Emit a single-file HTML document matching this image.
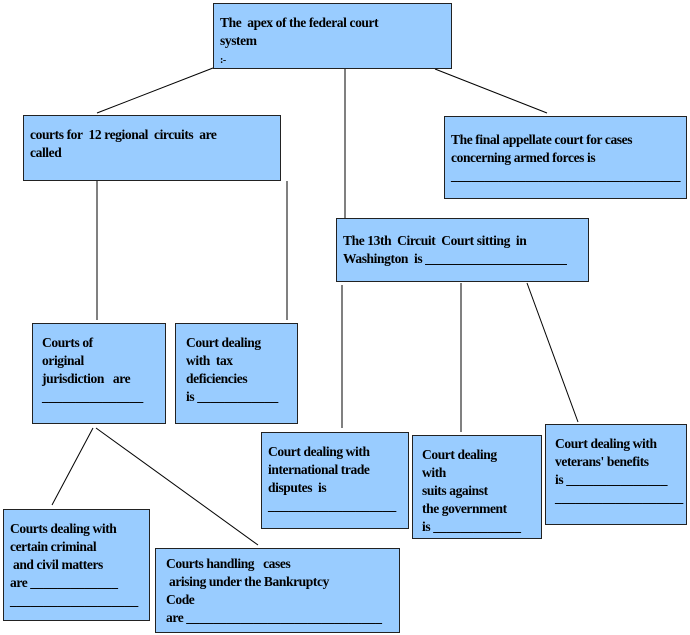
<!DOCTYPE html>
<html><head><meta charset="utf-8"><style>
body{margin:0;width:690px;height:635px;background:#fff;position:relative;overflow:hidden;font-family:"Liberation Serif","Times New Roman",serif;font-weight:bold;font-size:13.5px;letter-spacing:-0.4px;line-height:18px;color:#000}
.b{position:absolute;background:#99ccff;border:1px solid #222;box-sizing:border-box;padding:10px 6px}
.u{letter-spacing:0}
svg{position:absolute;left:0;top:0}
</style></head><body>
<svg width="690" height="635"><g stroke="#000" stroke-width="1" fill="none">
<line x1="213" y1="68" x2="97" y2="113"/>
<line x1="345" y1="68" x2="345" y2="218"/>
<line x1="435" y1="69" x2="547" y2="113"/>
<line x1="97" y1="181" x2="97" y2="320"/>
<line x1="287" y1="181" x2="287" y2="320"/>
<line x1="342" y1="285" x2="342" y2="428"/>
<line x1="461" y1="283" x2="461" y2="432"/>
<line x1="527" y1="283" x2="578" y2="422"/>
<line x1="93" y1="428" x2="52" y2="505"/>
<line x1="96" y1="428" x2="258" y2="545"/>
</g></svg>
<div class="b" style="left:213px;top:3px;width:239px;height:66px">The&nbsp; apex of the federal court<br>system<br><span style="font-size:10px;line-height:10px">:-</span></div>
<div class="b" style="left:23px;top:115px;width:258px;height:66px">courts for&nbsp; 12 regional&nbsp; circuits&nbsp; are<br>called</div>
<div class="b" style="left:444px;top:116px;width:243px;height:83px;padding-top:14px">The final appellate court for cases<br>concerning armed forces is<br><span class="u">__________________________________</span></div>
<div class="b" style="left:336px;top:218px;width:253px;height:64px;padding-top:13px">The 13th&nbsp; Circuit&nbsp; Court sitting&nbsp; in<br>Washington&nbsp; is <span class="u">_____________________</span></div>
<div class="b" style="left:32px;top:323px;width:134px;height:101px;padding-left:9px">Courts of<br>original<br>jurisdiction&nbsp;&nbsp; are<br><span class="u">_______________</span></div>
<div class="b" style="left:175px;top:323px;width:123px;height:101px;padding-left:10px">Court dealing<br>with&nbsp; tax<br>deficiencies<br>is <span class="u">____________</span></div>
<div class="b" style="left:261px;top:432px;width:148px;height:97px">Court dealing with<br>international trade<br>disputes&nbsp; is<br><span class="u">___________________</span></div>
<div class="b" style="left:412px;top:435px;width:130px;height:104px;padding-left:9px">Court dealing<br>with<br>suits against<br>the government<br>is <span class="u">_____________</span></div>
<div class="b" style="left:545px;top:424px;width:142px;height:101px;padding-left:9px">Court dealing with<br>veterans' benefits<br>is <span class="u">_______________</span><br><span class="u">___________________</span></div>
<div class="b" style="left:3px;top:509px;width:147px;height:112px">Courts dealing with<br>certain criminal<br>&nbsp;and civil matters<br>are <span class="u">_____________</span><br><span class="u">___________________</span></div>
<div class="b" style="left:155px;top:548px;width:245px;height:85px;padding-top:6px;padding-left:10px">Courts handling&nbsp;&nbsp; cases<br>&nbsp;arising under the Bankruptcy<br>Code<br>are <span class="u">_____________________________</span></div>
</body></html>
